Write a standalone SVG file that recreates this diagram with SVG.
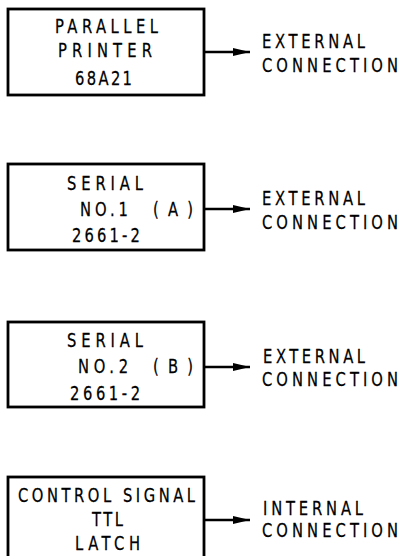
<svg xmlns="http://www.w3.org/2000/svg" width="400" height="556" viewBox="0 0 400 556">
<style>
.box{fill:#fff;stroke:#000;stroke-width:2.8}
.t{font-family:"DejaVu Sans Condensed","Liberation Sans",Arial,sans-serif;font-stretch:condensed;font-size:20px;fill:#000;stroke:#000;stroke-width:0.25}
.c{stroke:#000;stroke-width:2.6;fill:none}
</style>
<defs>
<marker id="ah" viewBox="0 0 17 8" refX="17" refY="4" markerWidth="17" markerHeight="8" markerUnits="userSpaceOnUse" orient="auto">
<path d="M0,0 L17,4 L0,8 z" fill="#000"/>
</marker>
</defs>
<rect width="400" height="556" fill="#fff"/>
<g id="connectors">
<line class="c" x1="205" y1="52" x2="250" y2="52" marker-end="url(#ah)"/>
<line class="c" x1="205" y1="209" x2="250" y2="209" marker-end="url(#ah)"/>
<line class="c" x1="205" y1="367" x2="250" y2="367" marker-end="url(#ah)"/>
<line class="c" x1="205" y1="520" x2="250" y2="520" marker-end="url(#ah)"/>
</g>
<g id="parallel-printer">
<rect class="box" x="8" y="9" width="196" height="86"/>
<text class="t" transform="matrix(0.82 0 0 1 55 33)" textLength="125.6" lengthAdjust="spacing">PARALLEL</text>
<text class="t" transform="matrix(0.82 0 0 1 58 57)" textLength="114.6" lengthAdjust="spacing">PRINTER</text>
<text class="t" transform="matrix(0.82 0 0 1 75 85)" textLength="69.5" lengthAdjust="spacing">68A21</text>
</g>
<g id="ext1">
<text class="t" transform="matrix(0.82 0 0 1 262 48)" textLength="125.6" lengthAdjust="spacing">EXTERNAL</text>
<text class="t" transform="matrix(0.82 0 0 1 262 72)" textLength="165.9" lengthAdjust="spacing">CONNECTION</text>
</g>
<g id="serial1">
<rect class="box" x="8" y="164" width="196" height="86"/>
<text class="t" transform="matrix(0.82 0 0 1 67 190)" textLength="92.7" lengthAdjust="spacing">SERIAL</text>
<text class="t" transform="matrix(0.82 0 0 1 80 216)" textLength="58.5" lengthAdjust="spacing">NO.1</text>
<text class="t" transform="matrix(0.82 0 0 1 153 216)" textLength="48.8" lengthAdjust="spacing">(A)</text>
<text class="t" transform="matrix(0.82 0 0 1 72 242)" textLength="82.9" lengthAdjust="spacing">2661-2</text>
</g>
<g id="ext2">
<text class="t" transform="matrix(0.82 0 0 1 262 205)" textLength="125.6" lengthAdjust="spacing">EXTERNAL</text>
<text class="t" transform="matrix(0.82 0 0 1 262 229)" textLength="165.9" lengthAdjust="spacing">CONNECTION</text>
</g>
<g id="serial2">
<rect class="box" x="8" y="322" width="196" height="85"/>
<text class="t" transform="matrix(0.82 0 0 1 67 347)" textLength="92.7" lengthAdjust="spacing">SERIAL</text>
<text class="t" transform="matrix(0.82 0 0 1 78 373)" textLength="61" lengthAdjust="spacing">NO.2</text>
<text class="t" transform="matrix(0.82 0 0 1 153 373)" textLength="48.8" lengthAdjust="spacing">(B)</text>
<text class="t" transform="matrix(0.82 0 0 1 70 400)" textLength="85.4" lengthAdjust="spacing">2661-2</text>
</g>
<g id="ext3">
<text class="t" transform="matrix(0.82 0 0 1 263 363)" textLength="124.4" lengthAdjust="spacing">EXTERNAL</text>
<text class="t" transform="matrix(0.82 0 0 1 262 386)" textLength="165.9" lengthAdjust="spacing">CONNECTION</text>
</g>
<g id="control-signal">
<rect class="box" x="8" y="477" width="196" height="90"/>
<text class="t" transform="matrix(0.82 0 0 1 18 502)" textLength="215.9" lengthAdjust="spacing">CONTROL SIGNAL</text>
<text class="t" transform="matrix(0.82 0 0 1 92 526)" textLength="37.8" lengthAdjust="spacing">TTL</text>
<text class="t" transform="matrix(0.82 0 0 1 75 550)" textLength="79.3" lengthAdjust="spacing">LATCH</text>
</g>
<g id="int1">
<text class="t" transform="matrix(0.82 0 0 1 263 515)" textLength="122" lengthAdjust="spacing">INTERNAL</text>
<text class="t" transform="matrix(0.82 0 0 1 262 537)" textLength="165.9" lengthAdjust="spacing">CONNECTION</text>
</g>
</svg>
